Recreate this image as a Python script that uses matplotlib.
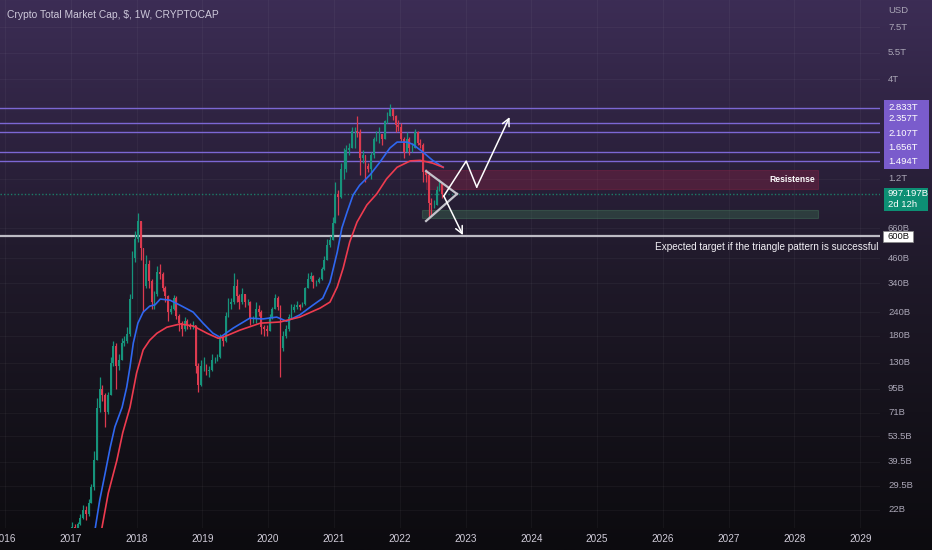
import numpy as np
import matplotlib
matplotlib.use('Agg')
import matplotlib.pyplot as plt
from matplotlib.colors import LinearSegmentedColormap
from matplotlib.patches import Rectangle
from matplotlib.ticker import NullLocator

# half-month candles from Jan 2017 to Aug 2022, total market cap in billions USD
first_open = 17.5
closes = [
    18, 17.5, 18.5, 20, 22, 21, 24, 29, 40, 75, 95, 88, 72, 88, 130, 160, 125, 135, 165, 170, 185, 280, 460, 580,
    720, 520, 330, 430, 350, 270, 300, 390, 380, 320, 290, 240, 250, 285, 230, 210, 195, 215, 205, 200, 205, 125, 100, 125,
    125, 118, 120, 135, 135, 140, 175, 170, 230, 265, 270, 330, 290, 270, 300, 270, 270, 220, 220, 250, 240, 200, 195, 190,
    225, 250, 285, 255, 155, 180, 195, 225, 245, 255, 260, 255, 265, 320, 360, 370, 345, 345, 360, 405, 450, 540, 575, 700,
    1000, 960, 1350, 1350, 1700, 1750, 2150, 2150, 2100, 1550, 1600, 1400, 1350, 1600, 1950, 2050, 2050, 1950, 2400, 2550, 2800, 2550, 2300, 2250,
    1950, 1650, 1950, 1750, 1750, 2100, 1850, 1800, 1300, 1250, 900, 880, 880, 1050, 1130, 997.197,
]
highs = [
    19, 18.5, 19, 21, 23.5, 23, 25, 30, 45, 85, 110, 100, 90, 92, 140, 170, 165, 145, 175, 180, 200, 300, 500, 640,
    790, 720, 520, 480, 450, 360, 310, 420, 430, 390, 330, 295, 260, 295, 290, 235, 215, 225, 220, 210, 215, 205, 130, 135,
    140, 128, 125, 145, 140, 145, 185, 180, 240, 285, 285, 385, 360, 300, 320, 300, 280, 275, 230, 270, 260, 245, 205, 205,
    235, 255, 300, 290, 260, 190, 205, 235, 265, 265, 275, 265, 270, 325, 385, 390, 375, 355, 365, 415, 470, 580, 600, 760,
    1150, 1050, 1450, 1750, 1800, 1850, 2250, 2250, 2550, 2200, 1700, 1600, 1450, 1650, 2000, 2150, 2250, 2050, 2450, 2700, 2950, 2800, 2600, 2450,
    2350, 2000, 2100, 2000, 1850, 2200, 2150, 1950, 1850, 1350, 1300, 950, 930, 1100, 1200, 1150,
]
lows = [
    17, 17, 17.5, 18.3, 19.8, 19.5, 20.5, 24, 28, 40, 72, 82, 60, 70, 88, 125, 95, 120, 135, 160, 165, 180, 285, 440,
    560, 450, 240, 320, 320, 250, 250, 290, 360, 310, 270, 215, 235, 245, 220, 190, 180, 190, 195, 195, 195, 115, 92, 98,
    118, 112, 110, 118, 130, 133, 138, 160, 168, 225, 250, 265, 270, 250, 265, 255, 260, 205, 210, 210, 230, 185, 180, 180,
    190, 220, 250, 245, 110, 150, 175, 190, 220, 240, 250, 245, 255, 260, 320, 350, 320, 330, 340, 355, 400, 450, 530, 570,
    700, 780, 950, 1200, 1300, 1600, 1750, 1750, 2000, 1250, 1450, 1150, 1300, 1200, 1550, 1900, 1850, 1800, 1950, 2350, 2550, 2450, 2100, 2150,
    1900, 1550, 1650, 1600, 1650, 1750, 1800, 1750, 1150, 1150, 760, 780, 840, 870, 1030, 950,
]

# moving averages (year, billions)
blue_ma_t = [2017.37, 2017.44, 2017.52, 2017.6, 2017.67, 2017.78, 2017.85, 2017.9, 2017.95, 2018.02, 2018.1,
             2018.2, 2018.28, 2018.36, 2018.51, 2018.66, 2018.86, 2019.01, 2019.16, 2019.27, 2019.47, 2019.72,
             2019.92, 2020.13, 2020.28, 2020.48, 2020.68, 2020.83, 2020.94, 2021.05, 2021.12, 2021.2, 2021.29,
             2021.39, 2021.55, 2021.7, 2021.85, 2021.96, 2022.11, 2022.2, 2022.35, 2022.5, 2022.66]
blue_ma_v = [17.5, 24.8, 34, 47, 60, 76, 97, 124, 165, 210, 240, 258, 262, 281, 277, 261, 240, 210, 186, 177,
             198, 223, 221, 226, 215, 232, 261, 284, 345, 495, 662, 804, 986, 1110, 1260, 1470, 1740, 1870,
             1870, 1820, 1660, 1500, 1380]
red_ma_t = [2017.47, 2017.57, 2017.7, 2017.79, 2017.9, 2018.0, 2018.1, 2018.2, 2018.31, 2018.46, 2018.66,
            2018.86, 2019.07, 2019.24, 2019.31, 2019.57, 2019.88, 2020.18, 2020.48, 2020.79, 2020.94, 2021.05,
            2021.14, 2021.24, 2021.35, 2021.5, 2021.65, 2021.8, 2021.96, 2022.16, 2022.31, 2022.5, 2022.66]
red_ma_v = [17.5, 27, 40, 56, 76, 115, 152, 171, 186, 200, 208, 203, 186, 175, 177, 193, 210, 213, 226, 252,
            271, 325, 408, 560, 711, 875, 1000, 1200, 1380, 1490, 1500, 1450, 1380]

# horizontal levels and drawings
purple_levels = [2833, 2357, 2107, 1656, 1494]
purple_labels = ['2.833T', '2.357T', '2.107T', '1.656T', '1.494T']
purple_label_shift = [0, -4, 1, -5, 1]   # px, label de-overlap on the price scale
target_level = 600
last_price = 997.197
resist_zone = (2022.40, 2028.36, 1060, 1334)
support_zone = (2022.34, 2028.36, 747, 822)
tri_upper = ([2022.40, 2022.87], [1318, 1000])
tri_lower = ([2022.40, 2022.87], [721, 1000])
up_path = ([2022.67, 2023.01, 2023.17, 2023.67], [975, 1486, 1087, 2530])
down_path = ([2022.67, 2022.96], [975, 608])

scale_ticks = [7500, 5500, 4000, 1200, 660, 460, 340, 240, 180, 130, 95, 71, 53.5, 39.5, 29.5, 22]
scale_labels = ['7.5T', '5.5T', '4T', '1.2T', '660B', '460B', '340B', '240B', '180B', '130B', '95B', '71B',
                '53.5B', '39.5B', '29.5B', '22B']
years = list(range(2016, 2030))

plt.rcParams['font.family'] = ['Liberation Sans', 'DejaVu Sans']
SCALE_FS = 6.8
SCALE_COL = '#aaa6b6'

W, H = 932, 550
fig = plt.figure(figsize=(W / 100, H / 100), dpi=100)

# background gradient
bg = fig.add_axes([0, 0, 1, 1], zorder=0)
cmap = LinearSegmentedColormap.from_list('bg', ['#0c0b0f', '#15121b', '#1f1929', '#2d223f', '#3c2d55'])
bg.imshow(np.linspace(0, 1, 256).reshape(-1, 1)[::-1], aspect='auto', cmap=cmap, extent=[0, 1, 0, 1])
bg.axis('off')

plot_w, plot_h, plot_b = 880, 528, 22
ax = fig.add_axes([0, plot_b / H, plot_w / W, plot_h / H], zorder=1)
ax.patch.set_alpha(0)
ax.set_yscale('log')
ymin, ymax = 17.7, 10400
ax.set_ylim(ymin, ymax)
ax.set_xlim(2015.924, 2029.30)
for s in ax.spines.values():
    s.set_visible(False)
ax.set_yticks(scale_ticks)
ax.yaxis.set_minor_locator(NullLocator())
ax.tick_params(axis='y', length=0, labelleft=False)
ax.set_xticks(years)
ax.set_xticklabels([str(y) for y in years])
ax.tick_params(axis='x', length=0, pad=4, labelsize=7.2, labelcolor='#d0ccd9')
ax.grid(True, color='#ffffff', alpha=0.04, lw=0.8)

# candles
n = len(closes)
t = np.array([2017 + i / 24 + 1 / 48 for i in range(n)])
c = np.array(closes)
o = np.array([first_open] + closes[:-1])
up = c >= o
col = np.where(up, '#16937b', '#dc3a4f')
ax.vlines(t, lows, highs, colors=col, lw=0.9, zorder=3)
ax.bar(t, np.abs(c - o), bottom=np.minimum(o, c), width=0.65 / 24, color=col, lw=0, zorder=3)

ax.plot(blue_ma_t, blue_ma_v, color='#2f67f0', lw=1.2, zorder=4)
ax.plot(red_ma_t, red_ma_v, color='#ee3b4f', lw=1.2, zorder=4)

# levels
for lv in purple_levels:
    ax.axhline(lv, color='#7c67d4', lw=1.0, zorder=2)
ax.axhline(target_level, color='#bdbbc4', lw=1.6, zorder=2)
ax.axhline(last_price, color='#1c7c69', lw=1.0, ls=(0, (1, 1.5)), zorder=2)

x0, x1, y0, y1 = resist_zone
ax.add_patch(Rectangle((x0, y0), x1 - x0, y1 - y0, facecolor='#b0264a', alpha=0.28, edgecolor='#b0264a',
                       lw=0.8, zorder=2))
x0, x1, y0, y1 = support_zone
ax.add_patch(Rectangle((x0, y0), x1 - x0, y1 - y0, facecolor='#3d7a55', alpha=0.35, edgecolor='#4c8a64',
                       lw=0.8, zorder=2))
ax.text(resist_zone[1] - 0.04, 1190, 'Resistense', color='white', fontsize=6.2, fontweight='bold',
        ha='right', va='center', zorder=6)
ax.text(2029.27, 526, 'Expected target if the triangle pattern is successful', color='#f2f0f5',
        fontsize=7.2, ha='right', va='center', zorder=6)

ax.plot(*tri_upper, color='#c4c3cb', lw=1.6, zorder=5)
ax.plot(*tri_lower, color='#c4c3cb', lw=1.6, zorder=5)
arrow = dict(arrowstyle='->', color='white', lw=1.1, mutation_scale=13, shrinkA=0, shrinkB=0)
ax.plot(up_path[0][:-1], up_path[1][:-1], color='white', lw=1.1, zorder=5)
ax.annotate('', xy=(up_path[0][-1], up_path[1][-1]), xytext=(up_path[0][-2], up_path[1][-2]),
            arrowprops=arrow, zorder=5)
ax.annotate('', xy=(down_path[0][-1], down_path[1][-1]), xytext=(down_path[0][0], down_path[1][0]),
            arrowprops=arrow, zorder=5)

ax.text(0.0075, 1 - 15 / plot_h, 'Crypto Total Market Cap, $, 1W, CRYPTOCAP', transform=ax.transAxes,
        color='#cdc8da', fontsize=7.4, ha='left', va='center')

# price scale on the right
sc = fig.add_axes([plot_w / W, plot_b / H, (W - plot_w) / W, plot_h / H], zorder=2)
sc.patch.set_alpha(0)
sc.set_yscale('log')
sc.set_ylim(ymin, ymax)
sc.set_xlim(0, 1)
sc.axis('off')
decade_px = plot_h / np.log10(ymax / ymin)


def shift(v, px):
    return v * 10 ** (-px / decade_px)


lab_x = 8 / 52
for v, s in zip(scale_ticks, scale_labels):
    sc.text(lab_x, v, s, color=SCALE_COL, fontsize=SCALE_FS, ha='left', va='center', zorder=2)
sc.text(lab_x, shift(ymax, 10), 'USD', color=SCALE_COL, fontsize=SCALE_FS, ha='left', va='center')

for v, s, d in zip(purple_levels, purple_labels, purple_label_shift):
    yc = shift(v, d)
    sc.add_patch(Rectangle((4 / 52, shift(yc, 7.5)), 45 / 52, shift(yc, -7.5) - shift(yc, 7.5),
                           facecolor='#7a5ccc', lw=0, zorder=3))
    sc.text(lab_x, yc, s, color='white', fontsize=SCALE_FS, ha='left', va='center', zorder=4)

sc.add_patch(Rectangle((4 / 52, shift(last_price, 17)), 44 / 52, shift(last_price, -6) - shift(last_price, 17),
                       facecolor='#0d8f74', lw=0, zorder=3))
sc.text(lab_x, shift(last_price, -1), '997.197B', color='white', fontsize=SCALE_FS, ha='left', va='center',
        zorder=4)
sc.text(lab_x, shift(last_price, 10), '2d 12h', color='white', fontsize=SCALE_FS, ha='left', va='center',
        zorder=4)

sc.add_patch(Rectangle((3 / 52, shift(target_level, 6)), 30 / 52, shift(target_level, -5) - shift(target_level, 6),
                       facecolor='white', edgecolor='#888888', lw=0.5, zorder=3))
sc.text(lab_x, shift(target_level, 0.5), '600B', color='#111111', fontsize=SCALE_FS, ha='left', va='center',
        zorder=4)

fig.savefig('out.png', dpi=100)
